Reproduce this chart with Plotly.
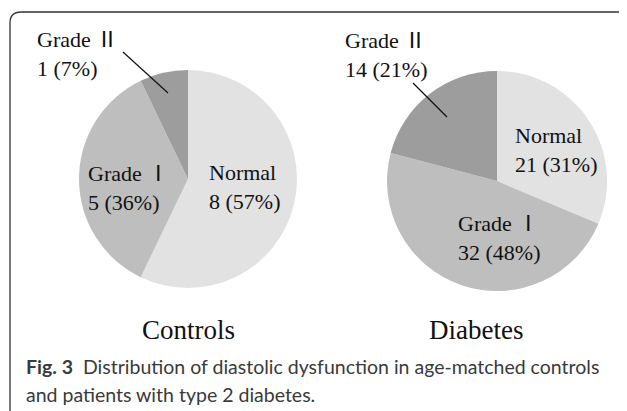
import plotly.graph_objects as go

# page has an 8px body margin: draw in page pixels, convert to figure fractions
OFF = 8
W, H = 627 - OFF, 411 - OFF

grades = ["Normal", "Grade Ⅰ", "Grade Ⅱ"]
controls_counts = [8, 5, 1]
controls_pct = [57, 36, 7]
diabetes_counts = [21, 32, 14]
diabetes_pct = [31, 48, 21]
group_names = ["Controls", "Diabetes"]
slice_colors = ["#e2e2e2", "#bebebe", "#9d9d9d"]

caption_bold = "Fig. 3"
caption_line1 = "Distribution of diastolic dysfunction in age-matched controls"
caption_line2 = "and patients with type 2 diabetes."

def px(x):
    return (x - OFF) / W

def py(y):
    return 1 - (y - OFF) / H

fig = go.Figure()

pie_domains = [
    dict(x=[px(188 - 109), px(188 + 109)], y=[py(179 + 109), py(179 - 109)]),
    dict(x=[px(497 - 110), px(497 + 110)], y=[py(181 + 110), py(181 - 110)]),
]

for counts, dom in zip([controls_counts, diabetes_counts], pie_domains):
    fig.add_trace(go.Pie(
        labels=grades, values=counts, sort=False, direction="clockwise",
        rotation=0, marker=dict(colors=slice_colors, line=dict(width=0)),
        textinfo="none", hoverinfo="skip", showlegend=False, domain=dom,
    ))

label_font = dict(family="Liberation Serif, Noto Sans CJK SC, serif", size=22, color="#111")

def lab(name, n, p):
    return f"{name}<br>{n} ({p}%)"

# label anchors (left x, vertical middle y) in page pixels
label_pos = {
    0: [(207, 187), (86, 188), (35, 54)],
    1: [(513, 150), (456, 238), (343, 55)],
}
for gi, (counts, pcts) in enumerate([(controls_counts, controls_pct), (diabetes_counts, diabetes_pct)]):
    for si, name in enumerate(grades):
        x, y = label_pos[gi][si]
        fig.add_annotation(
            x=px(x), y=py(y), xref="paper", yref="paper", xanchor="left", yanchor="middle",
            align="left", showarrow=False, text=lab(name, counts[si], pcts[si]), font=label_font,
        )

# leader lines for Grade II
for (x0, y0, x1, y1) in [(123, 52, 168, 93), (413, 83, 447, 117)]:
    fig.add_shape(type="line", xref="paper", yref="paper", x0=px(x0), y0=py(y0), x1=px(x1), y1=py(y1),
                  line=dict(color="#111", width=1.2))

# group titles
for name, cx in zip(group_names, [188, 476]):
    fig.add_annotation(x=px(cx), y=py(330), xref="paper", yref="paper", xanchor="center", yanchor="middle",
                       showarrow=False, text=name,
                       font=dict(family="Liberation Serif, serif", size=27, color="#111"))

# caption
cap_font = dict(family="Lato, Open Sans, sans-serif", size=19.5, color="#3a3a3a")
fig.add_annotation(x=px(24), y=py(366), xref="paper", yref="paper", xanchor="left", yanchor="middle",
                   showarrow=False, text=f"<b>{caption_bold}</b>  {caption_line1}", font=cap_font)
fig.add_annotation(x=px(24), y=py(394), xref="paper", yref="paper", xanchor="left", yanchor="middle",
                   showarrow=False, text=caption_line2, font=cap_font)

# rounded frame (top and left edges)
r = 11
x0, y0 = 10, 12
path = (f"M {px(x0)},{py(413)} L {px(x0)},{py(y0 + r)} "
        f"Q {px(x0)},{py(y0)} {px(x0 + r)},{py(y0)} L {px(626)},{py(y0)}")
fig.add_shape(type="path", xref="paper", yref="paper", path=path, line=dict(color="#333", width=1.3))

fig.update_layout(
    width=W, height=H, margin=dict(l=0, r=0, t=0, b=0),
    paper_bgcolor="white", plot_bgcolor="white",
)

fig.write_html("out.html")
